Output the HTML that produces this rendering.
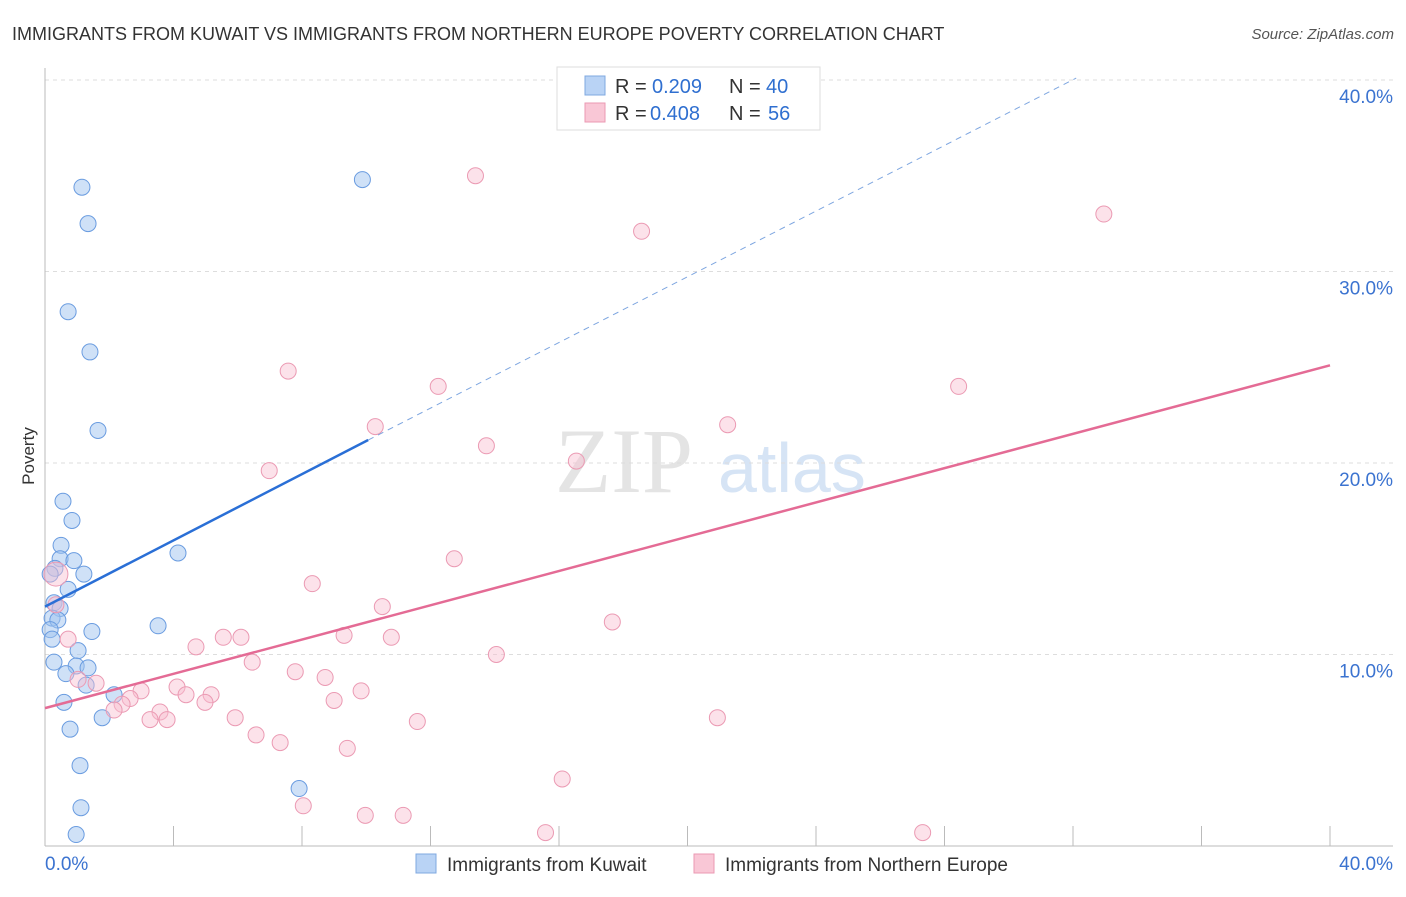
<!DOCTYPE html>
<html><head><meta charset="utf-8"><style>
body{margin:0;background:#fff;font-family:"Liberation Sans",sans-serif}
</style></head><body>
<svg width="1406" height="892" xmlns="http://www.w3.org/2000/svg">
<text x="12" y="40" font-size="18" fill="#333">IMMIGRANTS FROM KUWAIT VS IMMIGRANTS FROM NORTHERN EUROPE POVERTY CORRELATION CHART</text>
<text x="1394" y="39" font-size="15" fill="#555" font-style="italic" text-anchor="end">Source: ZipAtlas.com</text>
<text x="555" y="492" font-size="92" fill="#e4e4e4" font-family="Liberation Serif">ZIP</text>
<text x="718" y="492" font-size="70" fill="#d6e4f5">atlas</text>
<g id="grid"></g>
<g id="axes"></g>
<text transform="translate(34,456) rotate(-90)" font-size="17" fill="#333" text-anchor="middle">Poverty</text>
<g id="pts"></g>
<g id="lines"></g>
<g>
<rect x="557" y="67" width="263" height="63" fill="#fff" stroke="#ddd"/>
<rect x="585" y="76" width="20" height="19" fill="#b9d3f5" stroke="#7fa8e0"/>
<rect x="585" y="103" width="20" height="19" fill="#f9c7d6" stroke="#eb9ab3"/>
<text x="615" y="93" font-size="20" fill="#333">R =</text>
<text x="652" y="93" font-size="20" fill="#2f6fd0">0.209</text>
<text x="729" y="93" font-size="20" fill="#333">N =</text>
<text x="766" y="93" font-size="20" fill="#2f6fd0">40</text>
<text x="615" y="120" font-size="20" fill="#333">R =</text>
<text x="650" y="120" font-size="20" fill="#2f6fd0">0.408</text>
<text x="729" y="120" font-size="20" fill="#333">N =</text>
<text x="768" y="120" font-size="20" fill="#2f6fd0">56</text>
</g>
<g>
<rect x="416" y="854" width="20" height="19" fill="#b9d3f5" stroke="#7fa8e0"/>
<text x="447" y="871" font-size="19" fill="#333">Immigrants from Kuwait</text>
<rect x="694" y="854" width="20" height="19" fill="#f9c7d6" stroke="#eb9ab3"/>
<text x="725" y="871" font-size="19" fill="#333">Immigrants from Northern Europe</text>
</g>
</svg>
<script>
const yTicks=[10,20,30,40];
const yTickLabels=["10.0%","20.0%","30.0%","40.0%"];
const blueX=[1.15,1.34,0.72,1.4,1.65,9.88,0.56,0.84,0.5,0.47,0.9,0.31,1.21,4.14,0.72,0.28,0.47,0.22,0.4,0.16,1.46,3.52,0.22,1.03,0.28,0.97,1.34,0.65,1.28,2.15,0.59,1.78,0.78,1.09,1.12,0.97,7.91,0.16];
const blueY=[34.4,32.5,27.9,25.8,21.7,34.8,18.0,17.0,15.7,15.0,14.9,14.5,14.2,15.3,13.4,12.7,12.4,11.9,11.8,11.3,11.2,11.5,10.8,10.2,9.6,9.4,9.3,9.0,8.4,7.9,7.5,6.7,6.1,4.2,2.0,0.6,3.0,14.2];
const pinkX=[13.4,18.57,32.96,7.57,12.24,28.44,10.28,13.74,21.25,16.54,6.98,12.74,8.32,10.5,17.66,9.31,10.78,5.55,6.1,4.7,14.05,0.34,0.72,6.45,7.79,8.72,1.03,1.59,2.99,4.11,4.39,5.17,9.84,9.0,2.65,2.4,2.15,4.98,3.58,3.27,3.8,5.92,11.59,20.93,6.57,7.32,9.41,16.1,8.04,9.97,11.15,15.58,27.32,0.34];
const pinkY=[35.0,32.1,33.0,24.8,24.0,24.0,21.9,20.9,22.0,20.1,19.6,15.0,13.7,12.5,11.7,11.0,10.9,10.9,10.9,10.4,10.0,14.2,10.8,9.6,9.1,8.8,8.7,8.5,8.1,8.3,7.9,7.9,8.1,7.6,7.7,7.4,7.1,7.5,7.0,6.6,6.6,6.7,6.5,6.7,5.8,5.4,5.1,3.5,2.1,1.6,1.6,0.7,0.7,12.6];
const blueTrend=[12.5,21.2,40.1];
const blueTrendX=[0,10.06,32.1];
const pinkTrend=[7.2,25.1];
const pinkTrendX=[0,40];
const X=v=>45+v*32.125, Y=v=>846-v*19.15;
const NS="http://www.w3.org/2000/svg";
function mk(t,a,p){const e=document.createElementNS(NS,t);for(const k in a)e.setAttribute(k,a[k]);document.getElementById(p).appendChild(e);return e;}
yTicks.forEach((t,i)=>{
 const l=mk('line',{x1:45,x2:1393,y1:Y(t),y2:Y(t),stroke:'#ddd','stroke-dasharray':'4,4'},'grid');
 
 
 const tx=mk('text',{x:1393,y:Y(t)+23,'font-size':19,fill:'#3b73d0','text-anchor':'end'},'grid');
 tx.textContent=yTickLabels[i];
 
 
});
const xa=mk('line',{x1:45,x2:1393,y1:846,y2:846,stroke:'#bbb'},'axes');


const ya=mk('line',{x1:45,x2:45,y1:68,y2:846,stroke:'#bbb'},'axes');


for(let i=1;i<=10;i++){const tk=mk('line',{x1:X(i*4),x2:X(i*4),y1:826,y2:846,stroke:'#bbb'},'axes');
 
 }
const t0=mk('text',{x:45,y:870,'font-size':19,fill:'#3b73d0'},'axes');t0.textContent='0.0%';


const t1=mk('text',{x:1393,y:870,'font-size':19,fill:'#3b73d0','text-anchor':'end'},'axes');t1.textContent='40.0%';


blueX.forEach((x,i)=>{const c=mk('circle',{cx:X(x),cy:Y(blueY[i]),r:8,fill:'rgba(160,195,240,0.5)',stroke:'#6a9ce0','stroke-width':1},'pts');
 
 });
pinkX.forEach((x,i)=>{const c=mk('circle',{cx:X(x),cy:Y(pinkY[i]),r:i==21?12:8,fill:'rgba(248,190,208,0.45)',stroke:'#eb9ab3','stroke-width':1},'pts');
 
 });
const b1=mk('line',{x1:X(blueTrendX[0]),y1:Y(blueTrend[0]),x2:X(blueTrendX[1]),y2:Y(blueTrend[1]),stroke:'#2a6fd6','stroke-width':2.5},'lines');


const b2=mk('line',{x1:X(blueTrendX[1]),y1:Y(blueTrend[1]),x2:X(blueTrendX[2]),y2:Y(blueTrend[2]),stroke:'#7ea6e0','stroke-width':1,'stroke-dasharray':'6,5'},'lines');


const p1=mk('line',{x1:X(pinkTrendX[0]),y1:Y(pinkTrend[0]),x2:X(pinkTrendX[1]),y2:Y(pinkTrend[1]),stroke:'#e46b95','stroke-width':2.5},'lines');


</script>
</body></html>
